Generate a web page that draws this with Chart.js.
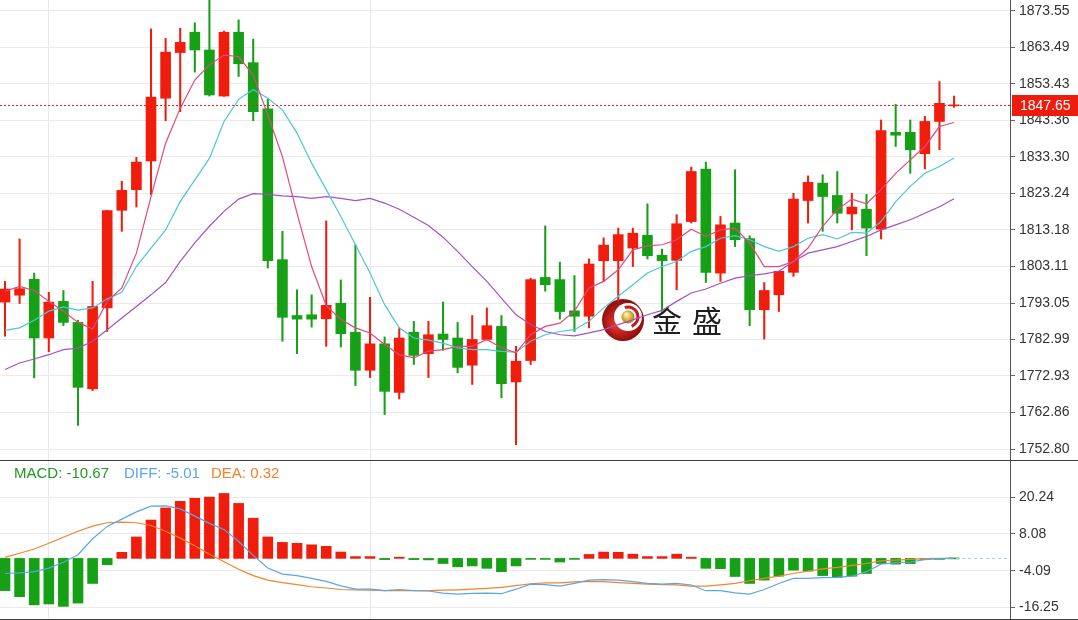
<!DOCTYPE html>
<html>
<head>
<meta charset="utf-8">
<script src="https://cdn.jsdelivr.net/npm/chart.js@4.4.1/dist/chart.umd.min.js"></script>
<style>
  html, body { margin: 0; padding: 0; background: #fff; }
  #wrap { position: relative; width: 1078px; height: 620px; overflow: hidden; }
  #main { position: absolute; left: 0; top: 0; }
  #macd { position: absolute; left: 0; top: 461px; }
  .hl { position: absolute; left: 0; width: 1078px; height: 1px; background: #3c3c3c; }
</style>
</head>
<body>
<div id="wrap">
  <canvas id="main" width="1078" height="460"></canvas>
  <canvas id="macd" width="1078" height="158"></canvas>
  <div class="hl" style="top:460px"></div>
  <div class="hl" style="top:619px"></div>
</div>
<script>
// candles
const open = [1793.3, 1795.2, 1799.6, 1783.4, 1793.5, 1787.7, 1769.4, 1791.7, 1818.6, 1824.3,
  1832.2, 1849.5, 1862.1, 1867.7, 1862.8, 1850.1, 1867.7, 1859.3, 1846.6, 1805.0,
  1789.6, 1789.8, 1788.7, 1793.0, 1785.0, 1774.5, 1781.8, 1768.4, 1785.0, 1779.1,
  1784.5, 1783.4, 1775.9, 1783.0, 1786.6, 1771.3, 1777.2, 1800.1, 1799.5, 1790.9,
  1789.4, 1804.7, 1804.7, 1808.2, 1811.7, 1806.2, 1804.8, 1815.5, 1830.0, 1801.3,
  1815.1, 1810.8, 1791.2, 1795.3, 1801.5, 1821.3, 1826.1, 1822.7, 1817.6, 1818.9,
  1813.4, 1840.1, 1840.1, 1834.2, 1843.1, 1847.4];
const high = [1799.0, 1810.7, 1801.3, 1796.0, 1796.5, 1788.3, 1799.0, 1818.6, 1826.6, 1833.2,
  1868.6, 1866.0, 1868.8, 1870.3, 1877.0, 1868.0, 1871.1, 1865.8, 1849.2, 1812.8,
  1796.7, 1795.3, 1815.7, 1799.4, 1809.1, 1794.6, 1783.7, 1786.2, 1788.0, 1788.0,
  1793.3, 1787.7, 1789.6, 1791.7, 1789.6, 1781.1, 1799.9, 1814.3, 1804.3, 1800.6,
  1805.2, 1811.0, 1813.7, 1813.7, 1820.4, 1807.9, 1817.4, 1830.5, 1831.9, 1816.9,
  1829.8, 1811.6, 1798.7, 1801.8, 1823.3, 1828.1, 1828.4, 1829.3, 1823.3, 1823.0,
  1843.5, 1847.8, 1843.5, 1844.5, 1854.1, 1850.1];
const low = [1783.9, 1792.9, 1772.4, 1779.6, 1786.8, 1759.3, 1768.9, 1785.2, 1812.8, 1819.5,
  1822.9, 1843.3, 1845.8, 1856.7, 1850.1, 1850.0, 1855.5, 1843.3, 1802.7, 1782.5,
  1779.1, 1786.4, 1781.1, 1780.9, 1770.3, 1772.5, 1762.3, 1766.6, 1776.1, 1772.5,
  1780.0, 1773.8, 1770.6, 1782.8, 1766.9, 1754.0, 1776.1, 1796.3, 1788.6, 1785.2,
  1786.2, 1799.0, 1793.5, 1803.1, 1805.2, 1790.7, 1796.7, 1815.1, 1798.7, 1799.0,
  1808.6, 1786.8, 1783.1, 1790.7, 1800.4, 1815.1, 1812.8, 1815.1, 1813.2, 1806.1,
  1810.7, 1836.2, 1828.8, 1830.0, 1835.3, 1847.0];
const close = [1796.9, 1797.0, 1783.4, 1793.3, 1787.7, 1769.8, 1792.1, 1818.5, 1824.1, 1831.9,
  1849.8, 1862.2, 1864.9, 1862.8, 1850.4, 1867.7, 1859.0, 1845.8, 1804.7, 1789.1,
  1788.6, 1788.6, 1792.4, 1784.6, 1774.5, 1781.8, 1768.7, 1783.4, 1778.6, 1784.3,
  1783.0, 1775.3, 1783.0, 1786.8, 1770.8, 1777.0, 1799.5, 1798.1, 1790.7, 1789.4,
  1803.8, 1809.0, 1811.9, 1812.3, 1806.1, 1804.7, 1814.9, 1829.3, 1801.5, 1814.6,
  1810.5, 1791.2, 1796.5, 1801.8, 1821.7, 1826.3, 1822.4, 1817.8, 1819.5, 1813.7,
  1840.6, 1839.3, 1835.3, 1843.1, 1848.1, 1847.65];

// moving averages
const ma5 = [1796.3, 1797.6, 1796.5, 1793.5, 1790.8, 1787.7, 1785.9, 1793.5, 1797.2, 1806.8,
  1822.4, 1837.1, 1846.7, 1854.5, 1858.7, 1861.4, 1861.0, 1855.9, 1844.9, 1833.4,
  1817.8, 1803.1, 1792.3, 1788.5, 1786.2, 1784.8, 1781.6, 1778.8, 1777.9, 1779.8,
  1780.2, 1781.1, 1781.1, 1783.0, 1780.7, 1779.3, 1784.3, 1786.6, 1787.5, 1790.8,
  1797.2, 1799.0, 1802.2, 1807.7, 1808.8, 1809.1, 1810.5, 1813.4, 1811.4, 1813.2,
  1813.7, 1809.6, 1803.1, 1803.1, 1804.5, 1808.2, 1814.2, 1818.8, 1821.7, 1820.4,
  1824.3, 1828.8, 1832.5, 1836.2, 1841.7, 1842.8];
const ma10 = [1785.5, 1786.2, 1788.3, 1790.8, 1792.0, 1791.1, 1791.7, 1794.2, 1796.0, 1803.1,
  1808.2, 1813.2, 1821.0, 1827.0, 1832.9, 1843.1, 1849.2, 1851.9, 1849.5, 1846.3,
  1839.9, 1831.6, 1824.3, 1816.9, 1809.1, 1801.3, 1792.6, 1786.2, 1783.4, 1782.8,
  1782.0, 1780.7, 1780.2, 1780.2, 1779.7, 1779.5, 1782.5, 1784.3, 1785.2, 1785.7,
  1788.0, 1791.7, 1794.9, 1798.1, 1801.3, 1803.1, 1804.5, 1807.3, 1808.6, 1810.9,
  1811.6, 1810.5, 1808.6, 1807.3, 1808.6, 1810.9, 1811.9, 1810.7, 1812.5, 1812.3,
  1815.5, 1821.0, 1825.2, 1828.8, 1830.7, 1833.0];
const ma20 = [1774.7, 1776.5, 1777.6, 1778.8, 1780.2, 1780.6, 1782.5, 1785.7, 1788.9, 1792.1,
  1795.3, 1798.7, 1804.5, 1809.6, 1814.2, 1818.3, 1821.7, 1823.2, 1823.0, 1822.6,
  1822.4, 1821.9, 1822.4, 1821.9, 1821.3, 1821.9, 1820.6, 1818.9, 1816.7, 1814.4,
  1811.2, 1807.3, 1803.1, 1799.0, 1794.4, 1789.8, 1787.1, 1785.2, 1784.3, 1784.0,
  1784.8, 1785.7, 1787.1, 1788.4, 1789.8, 1791.0, 1793.5, 1795.8, 1796.9, 1798.5,
  1799.9, 1800.6, 1801.1, 1801.8, 1804.5, 1806.8, 1807.7, 1808.6, 1810.0, 1811.4,
  1813.2, 1814.6, 1816.0, 1817.8, 1819.6, 1821.8];

// MACD panel
const macdHist = [-10.67, -12.7, -15.4, -15.1, -15.9, -14.8, -8.3, -2.1, 2.0, 7.1,
  12.7, 16.7, 18.9, 19.9, 20.3, 21.5, 18.2, 13.3, 7.1, 5.3,
  5.0, 4.5, 4.0, 2.1, 0.6, 0.6, -0.4, 0.4, -0.4, -0.5,
  -1.7, -2.8, -2.5, -3.3, -4.4, -2.5, -0.3, -0.3, -1.2, -0.3,
  1.3, 2.1, 2.0, 1.4, 0.6, 0.6, 1.4, 0.4, -3.3, -3.4,
  -6.0, -8.3, -7.2, -5.9, -3.9, -4.2, -5.7, -6.3, -5.9, -5.0,
  -1.7, -1.9, -1.7, -0.2, -0.1, 0];
const diff = [-5.01, -4.8, -4.4, -3.2, -1.3, 1.2, 6.5, 10.6, 13.0, 15.4,
  17.3, 17.4, 16.4, 14.0, 11.6, 9.6, 5.6, 1.0, -3.2, -5.2,
  -5.7, -6.6, -7.6, -9.1, -10.2, -10.2, -10.7, -10.3, -10.7, -10.8,
  -11.5, -11.8, -11.6, -11.5, -11.7, -10.2, -8.5, -8.7, -9.2, -8.3,
  -7.2, -7.0, -7.2, -7.7, -8.3, -8.5, -8.3, -8.8, -10.7, -10.7,
  -11.4, -11.8, -10.3, -8.3, -6.6, -6.6, -6.4, -6.3, -5.9, -4.4,
  -1.9, -1.4, -1.2, -0.4, -0.1, 0];
const dea = [0.32, 1.7, 3.1, 5.0, 7.0, 9.0, 10.7, 11.8, 12.0, 11.8,
  10.9, 9.0, 6.7, 4.2, 1.4, -1.1, -3.6, -5.7, -7.2, -8.0,
  -8.7, -9.4, -9.8, -10.3, -10.4, -10.5, -10.7, -10.7, -10.7, -10.7,
  -10.5, -10.4, -10.2, -9.9, -9.6, -9.0, -8.4, -8.1, -8.1, -7.8,
  -7.6, -7.7, -8.0, -8.3, -8.5, -8.7, -8.8, -9.2, -9.2, -8.8,
  -8.3, -7.4, -6.6, -5.9, -5.0, -4.2, -3.5, -3.0, -2.3, -1.7,
  -0.8, -0.6, -0.3, -0.1, 0, 0];

// axis ticks
const priceTicks = [1752.80, 1762.86, 1772.93, 1782.99, 1793.05, 1803.11, 1813.18,
  1823.24, 1833.30, 1843.36, 1853.43, 1863.49, 1873.55];
const macdTicks = [-16.25, -4.09, 8.08, 20.24];
const gridIdx = [3, 25];

const RED = '#f01c0c';
const GREEN = '#16a016';
const FONT = '"Liberation Sans", Arial, sans-serif';

const idx = open.map((_, i) => i);
const candleColors = idx.map(i => close[i] >= open[i] ? RED : GREEN);
const pts = arr => idx.map(i => ({ x: i, y: arr[i] }));

function xAxis() {
  return {
    type: 'linear',
    min: -0.342,
    max: 68.83,
    offset: false,
    afterBuildTicks: a => { a.ticks = gridIdx.map(v => ({ value: v })); },
    ticks: { display: false },
    grid: { color: '#e3e9ef', drawTicks: false, offset: false },
    border: { display: false },
    afterFit: a => {
      a.height = 0;
      a.paddingLeft = 0;
      a.paddingRight = 0;
    }
  };
}

function yAxis(min, max, vals) {
  return {
    position: 'right',
    min: min,
    max: max,
    afterBuildTicks: a => { a.ticks = vals.map(v => ({ value: v })); },
    ticks: {
      font: { family: FONT, size: 14 },
      color: '#333',
      padding: 4,
      callback: v => v.toFixed(2)
    },
    grid: { color: '#ebebeb', tickColor: '#666', tickLength: 5 },
    border: { color: '#555', width: 1 },
    afterFit: a => {
      a.width = 68;
      // labels may hang over the plot edges, no extra room wanted
      a.paddingTop = 0;
      a.paddingBottom = 0;
    }
  };
}

function maLine(arr, color) {
  return {
    type: 'line',
    data: pts(arr),
    borderColor: color,
    borderWidth: 1.2,
    pointRadius: 0,
    tension: 0,
    order: 0
  };
}

// watermark: red crescent with a gold ball, then the name
function drawLogo(ctx) {
  const cx = 623, cy = 320;
  ctx.save();
  let g = ctx.createRadialGradient(cx - 8, cy + 6, 2, cx, cy, 22);
  g.addColorStop(0, '#e0332a');
  g.addColorStop(1, '#8a0b0b');
  ctx.fillStyle = g;
  ctx.beginPath();
  ctx.arc(cx, cy, 21, 0, Math.PI * 2);
  ctx.fill();
  ctx.fillStyle = '#fff';
  ctx.beginPath();
  ctx.arc(cx + 5, cy - 3, 14, 0, Math.PI * 2);
  ctx.fill();
  ctx.strokeStyle = '#c8161a';
  ctx.lineWidth = 3;
  ctx.beginPath();
  ctx.arc(cx + 5, cy - 3, 10, -1.9, 1.2);
  ctx.stroke();
  g = ctx.createRadialGradient(cx + 3, cy - 6, 1, cx + 5, cy - 3, 7);
  g.addColorStop(0, '#fff4b8');
  g.addColorStop(0.5, '#e2b445');
  g.addColorStop(1, '#a87a1a');
  ctx.fillStyle = g;
  ctx.beginPath();
  ctx.arc(cx + 5, cy - 3, 6.5, 0, Math.PI * 2);
  ctx.fill();
  ctx.fillStyle = '#1e1e1e';
  ctx.font = '30px "Noto Sans CJK SC"';
  ctx.textBaseline = 'middle';
  ctx.fillText('金', 652, 321);
  ctx.fillText('盛', 692, 321);
  ctx.restore();
}

const mainExtras = {
  id: 'mainExtras',
  beforeDatasetsDraw(chart) {
    drawLogo(chart.ctx);
  },
  afterDraw(chart) {
    const { ctx, chartArea, scales } = chart;
    const last = close[close.length - 1];
    const py = Math.round(scales.y.getPixelForValue(last)) + 0.5;
    ctx.save();
    ctx.strokeStyle = '#e8231a';
    ctx.lineWidth = 1;
    ctx.setLineDash([2, 2]);
    ctx.beginPath();
    ctx.moveTo(chartArea.left, py);
    ctx.lineTo(chartArea.right, py);
    ctx.stroke();
    ctx.setLineDash([]);
    ctx.fillStyle = '#ee1c0c';
    ctx.fillRect(chartArea.right + 2, py - 10.5, chart.width - chartArea.right - 2, 21);
    ctx.fillStyle = '#fff';
    ctx.font = '14px ' + FONT;
    ctx.textBaseline = 'middle';
    ctx.fillText(last.toFixed(2), chartArea.right + 10, py + 1);
    ctx.restore();
  }
};

new Chart(document.getElementById('main'), {
  type: 'bar',
  data: {
    datasets: [
      maLine(ma5, '#e6467c'),
      maLine(ma10, '#4cc6d6'),
      maLine(ma20, '#a352c2'),
      {
        data: idx.map(i => ({ x: i, y: [low[i], high[i]] })),
        backgroundColor: candleColors,
        barThickness: 1.4,
        grouped: false,
        borderWidth: 0,
        order: 2
      },
      {
        data: idx.map(i => ({ x: i, y: [open[i], close[i]] })),
        backgroundColor: candleColors,
        barThickness: 10,
        minBarLength: 1,
        grouped: false,
        borderWidth: 0,
        order: 1
      }
    ]
  },
  options: {
    responsive: false,
    animation: false,
    layout: { padding: 0 },
    plugins: { legend: { display: false }, tooltip: { enabled: false } },
    scales: {
      x: xAxis(),
      y: yAxis(1749.77, 1876.58, priceTicks)
    }
  },
  plugins: [mainExtras]
});

const macdExtras = {
  id: 'macdExtras',
  afterDraw(chart) {
    const { ctx, chartArea, scales } = chart;
    const n = diff.length - 1;
    const px = scales.x.getPixelForValue(n);
    const py = Math.round(scales.y.getPixelForValue(diff[n])) + 0.5;
    ctx.save();
    ctx.strokeStyle = '#9ccdef';
    ctx.lineWidth = 1;
    ctx.setLineDash([3, 3]);
    ctx.beginPath();
    ctx.moveTo(px + 2, py);
    ctx.lineTo(chartArea.right, py);
    ctx.stroke();
    ctx.setLineDash([]);
    ctx.font = '15px ' + FONT;
    ctx.textBaseline = 'middle';
    ctx.fillStyle = '#1f9a1f';
    ctx.fillText('MACD: ' + macdHist[0].toFixed(2), 14, 13);
    ctx.fillStyle = '#5aa6e8';
    ctx.fillText('DIFF: ' + diff[0].toFixed(2), 124, 13);
    ctx.fillStyle = '#f0822e';
    ctx.fillText('DEA: ' + dea[0].toFixed(2), 211, 13);
    ctx.restore();
  }
};

new Chart(document.getElementById('macd'), {
  type: 'bar',
  data: {
    datasets: [
      {
        type: 'line',
        data: pts(diff),
        borderColor: '#5aa6e8',
        borderWidth: 1.2,
        pointRadius: 0,
        order: 0
      },
      {
        type: 'line',
        data: pts(dea),
        borderColor: '#f5832c',
        borderWidth: 1.2,
        pointRadius: 0,
        order: 0
      },
      {
        data: pts(macdHist),
        backgroundColor: macdHist.map(v => v > 0 ? RED : GREEN),
        barThickness: 10,
        minBarLength: 1,
        grouped: false,
        borderWidth: 0,
        order: 1
      }
    ]
  },
  options: {
    responsive: false,
    animation: false,
    layout: { padding: 0 },
    plugins: { legend: { display: false }, tooltip: { enabled: false } },
    scales: {
      x: xAxis(),
      y: yAxis(-20.07, 32.25, macdTicks)
    }
  },
  plugins: [macdExtras]
});
</script>
</body>
</html>
